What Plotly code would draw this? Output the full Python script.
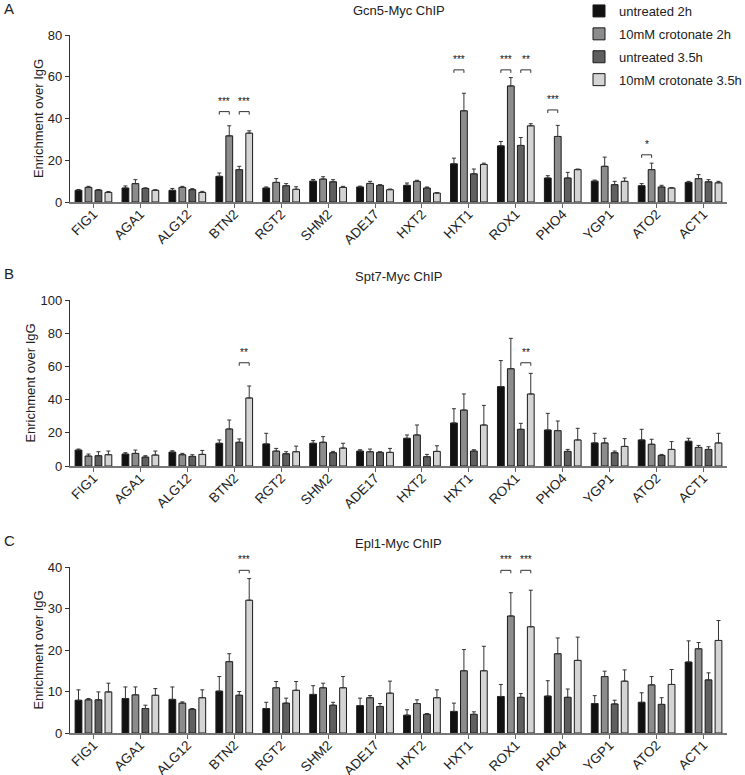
import plotly.graph_objects as go
from plotly.subplots import make_subplots

genes = ["FIG1", "AGA1", "ALG12", "BTN2", "RGT2", "SHM2", "ADE17",
         "HXT2", "HXT1", "ROX1", "PHO4", "YGP1", "ATO2", "ACT1"]
series_names = ["untreated 2h", "10mM crotonate 2h", "untreated 3.5h", "10mM crotonate 3.5h"]
series_colors = ["#111111", "#8c8c8c", "#5f5f5f", "#d4d4d4"]

# Panel A: Gcn5-Myc ChIP
gcn5_unt2 = [5.6, 6.7, 5.6, 12.3, 6.7, 10.0, 7.2, 8.0, 18.3, 26.9, 11.5, 10.0, 7.8, 9.4]
gcn5_unt2_err = [0.4, 1.0, 0.9, 1.6, 0.5, 0.8, 0.4, 1.1, 2.7, 2.1, 1.1, 0.5, 1.0, 0.5]
gcn5_cro2 = [7.0, 8.8, 7.0, 31.7, 9.4, 11.0, 8.9, 9.9, 43.7, 55.6, 31.4, 17.1, 15.5, 11.2]
gcn5_cro2_err = [0.5, 1.9, 0.5, 4.8, 1.8, 1.1, 1.0, 0.5, 8.4, 4.0, 5.3, 4.4, 3.1, 1.9]
gcn5_unt35 = [5.7, 6.5, 5.9, 15.5, 7.8, 9.7, 8.0, 6.7, 13.5, 27.1, 11.5, 8.3, 7.2, 9.7]
gcn5_unt35_err = [0.3, 0.3, 0.5, 1.6, 1.0, 1.0, 0.3, 0.5, 2.3, 3.8, 2.7, 1.6, 0.8, 1.0]
gcn5_cro35 = [4.6, 5.6, 4.6, 33.0, 6.1, 7.0, 5.9, 4.3, 18.0, 36.5, 15.5, 9.9, 6.7, 9.2]
gcn5_cro35_err = [0.4, 0.3, 0.5, 1.1, 1.2, 0.5, 0.3, 0.2, 0.6, 1.0, 0.3, 1.6, 0.2, 0.7]

# Panel B: Spt7-Myc ChIP
spt7_unt2 = [9.6, 7.2, 8.4, 13.7, 13.3, 13.7, 9.0, 16.7, 25.9, 47.8, 21.7, 13.9, 15.7, 14.9]
spt7_unt2_err = [0.6, 0.8, 0.8, 2.0, 6.4, 1.6, 0.8, 2.0, 8.6, 15.7, 10.0, 5.8, 6.4, 1.8]
spt7_cro2 = [6.0, 7.6, 6.8, 22.3, 9.0, 14.3, 8.6, 18.7, 33.7, 58.6, 21.3, 13.9, 13.1, 11.2]
spt7_cro2_err = [1.2, 2.0, 0.8, 5.4, 1.6, 3.4, 1.6, 6.0, 9.7, 18.3, 5.8, 2.8, 3.0, 1.2]
spt7_unt35 = [6.2, 5.4, 5.8, 14.3, 7.4, 8.0, 8.2, 5.6, 9.0, 22.1, 8.8, 8.0, 6.4, 10.0]
spt7_unt35_err = [2.4, 0.8, 1.0, 2.0, 1.2, 0.8, 0.4, 1.4, 0.8, 3.6, 1.2, 1.0, 0.6, 1.6]
spt7_cro35 = [6.8, 6.6, 7.0, 41.0, 8.6, 10.8, 8.2, 8.8, 24.7, 43.4, 15.7, 11.8, 10.0, 13.9]
spt7_cro35_err = [2.2, 2.4, 2.4, 7.2, 3.4, 2.9, 2.4, 3.4, 11.8, 12.4, 7.0, 4.7, 4.7, 5.8]

# Panel C: Epl1-Myc ChIP
epl1_unt2 = [7.9, 8.3, 8.1, 10.1, 5.9, 9.3, 6.6, 4.3, 5.2, 8.8, 8.9, 7.1, 7.4, 17.1]
epl1_unt2_err = [2.5, 2.8, 3.0, 3.5, 1.5, 2.1, 1.8, 1.3, 2.0, 2.9, 3.7, 1.9, 2.3, 5.1]
epl1_cro2 = [8.0, 9.2, 7.2, 17.2, 10.9, 10.9, 8.5, 7.1, 15.0, 28.2, 19.1, 13.6, 11.6, 20.3]
epl1_cro2_err = [0.3, 1.9, 0.3, 1.9, 1.5, 1.1, 0.5, 0.9, 5.1, 5.6, 3.8, 1.3, 2.0, 1.5]
epl1_unt35 = [8.0, 5.9, 5.7, 9.1, 7.2, 6.7, 6.4, 4.5, 4.5, 8.6, 8.6, 7.0, 6.9, 12.8]
epl1_unt35_err = [1.9, 0.8, 0.2, 0.9, 1.2, 0.7, 0.7, 0.2, 0.6, 0.9, 2.0, 0.9, 1.6, 1.7]
epl1_cro35 = [9.9, 9.1, 8.5, 32.0, 10.3, 10.9, 9.6, 8.5, 15.0, 25.6, 17.5, 12.5, 11.7, 22.3]
epl1_cro35_err = [2.1, 1.6, 1.9, 5.2, 2.1, 2.7, 2.9, 1.9, 5.9, 8.8, 5.6, 2.7, 3.6, 4.8]

panel_titles = ["Gcn5-Myc ChIP", "Spt7-Myc ChIP", "Epl1-Myc ChIP"]
panel_letters = ["A", "B", "C"]
y_tickvals = [[0, 20, 40, 60, 80], [0, 20, 40, 60, 80, 100], [0, 10, 20, 30, 40]]
y_ranges = [[0, 80], [0, 100], [0, 40]]

# significance: (gene, first bar, second bar, label, bracket height)
sig_A = [("BTN2", 0, 1, "***", 43.3), ("BTN2", 2, 3, "***", 43.3),
         ("HXT1", 0, 1, "***", 63.3), ("ROX1", 0, 1, "***", 63.3),
         ("ROX1", 2, 3, "**", 63.3), ("PHO4", 0, 1, "***", 44.1),
         ("ATO2", 0, 1, "*", 22.6)]
sig_B = [("BTN2", 2, 3, "**", 62.2), ("ROX1", 2, 3, "**", 62.2)]
sig_C = [("BTN2", 2, 3, "***", 39.2), ("ROX1", 0, 1, "***", 39.2),
         ("ROX1", 2, 3, "***", 39.2)]

panels = [
    ([gcn5_unt2, gcn5_cro2, gcn5_unt35, gcn5_cro35],
     [gcn5_unt2_err, gcn5_cro2_err, gcn5_unt35_err, gcn5_cro35_err], sig_A),
    ([spt7_unt2, spt7_cro2, spt7_unt35, spt7_cro35],
     [spt7_unt2_err, spt7_cro2_err, spt7_unt35_err, spt7_cro35_err], sig_B),
    ([epl1_unt2, epl1_cro2, epl1_unt35, epl1_cro35],
     [epl1_unt2_err, epl1_cro2_err, epl1_unt35_err, epl1_cro35_err], sig_C),
]

W, H = 745, 775
ML, MR = 70, 18
PW = W - ML - MR
# pixel rows of plot areas (top, bottom)
rows_px = [(35, 202), (300, 466), (567, 733)]
BARGAP = 0.15
BARGROUPGAP = 0.32

FONT = "Liberation Sans, Arial, sans-serif"
TXT = "#222222"

fig = make_subplots(rows=3, cols=1)

for p, (vals, errs, sigs) in enumerate(panels):
    for k in range(4):
        fig.add_trace(go.Bar(
            x=genes, y=vals[k], name=series_names[k],
            marker=dict(color=series_colors[k], line=dict(color="#1a1a1a", width=1)),
            error_y=dict(type="data", array=errs[k], symmetric=False,
                         arrayminus=[0] * len(genes), color="#333333",
                         thickness=1, width=2),
            showlegend=(p == 0), legendgroup=series_names[k],
        ), row=p + 1, col=1)

    yref = "y" if p == 0 else f"y{p + 1}"
    xref = "x" if p == 0 else f"x{p + 1}"
    top, bot = rows_px[p]
    units_per_px = (y_ranges[p][1] - y_ranges[p][0]) / (bot - top)
    slot = (1 - BARGAP) / 4
    for gene, a, b, label, hgt in sigs:
        gi = genes.index(gene)
        xa = gi - (1 - BARGAP) / 2 + slot * (a + 0.5)
        xb = gi - (1 - BARGAP) / 2 + slot * (b + 0.5)
        d = 3 * units_per_px
        fig.add_shape(type="path",
                      path=f"M {xa},{hgt - d} L {xa},{hgt} L {xb},{hgt} L {xb},{hgt - d}",
                      xref=xref, yref=yref, line=dict(color="#333333", width=1))
        fig.add_annotation(x=(xa + xb) / 2, y=hgt, xref=xref, yref=yref,
                           text=label, showarrow=False, yanchor="bottom", yshift=3,
                           font=dict(size=10, color="#111111", family=FONT))

    dom = [1 - bot / H, 1 - top / H]
    fig.update_yaxes(domain=dom, range=y_ranges[p], tickvals=y_tickvals[p],
                     showgrid=False, zeroline=False, showline=True, automargin=False,
                     linecolor="#333333", linewidth=1.3, ticks="outside",
                     ticklen=4, tickcolor="#333333",
                     tickfont=dict(size=13, color=TXT, family=FONT),
                     title=dict(text="Enrichment over IgG", standoff=1,
                                font=dict(size=13, color=TXT, family=FONT)),
                     row=p + 1, col=1)
    fig.update_xaxes(range=[-0.5, len(genes) - 0.5], showgrid=False, showline=True,
                     automargin=False,
                     linecolor="#777777", linewidth=1.8, ticks="outside", ticklen=4,
                     tickcolor="#666666", tickangle=-45, ticklabelstandoff=-7,
                     tickfont=dict(size=13.5, color=TXT, family=FONT),
                     row=p + 1, col=1)

    fig.add_annotation(x=0.5, xref="paper", y=1 - (top - 24) / H, yref="paper",
                       text=panel_titles[p], showarrow=False, yanchor="middle",
                       font=dict(size=13, color=TXT, family=FONT))
    fig.add_annotation(x=(2 - ML) / PW, xref="paper",
                       y=1 - (top - 27) / H, yref="paper", xanchor="left",
                       text=panel_letters[p], showarrow=False, yanchor="middle",
                       font=dict(size=15, color=TXT, family=FONT))

fig.update_layout(
    width=W, height=H,
    margin=dict(l=ML, r=MR, t=0, b=0, autoexpand=False),
    paper_bgcolor="white", plot_bgcolor="white",
    barmode="group", bargap=BARGAP, bargroupgap=BARGROUPGAP,
    font=dict(family=FONT, color=TXT),
    legend=dict(x=(579 - ML) / PW, y=1 + 4 / H, xanchor="left", yanchor="top",
                font=dict(size=13, color=TXT, family=FONT),
                bgcolor="rgba(0,0,0,0)", tracegroupgap=3, itemwidth=30),
)

fig.write_html("out.html", config={"displayModeBar": False},
               post_script="document.body.style.margin='0';document.body.style.padding='0';")
